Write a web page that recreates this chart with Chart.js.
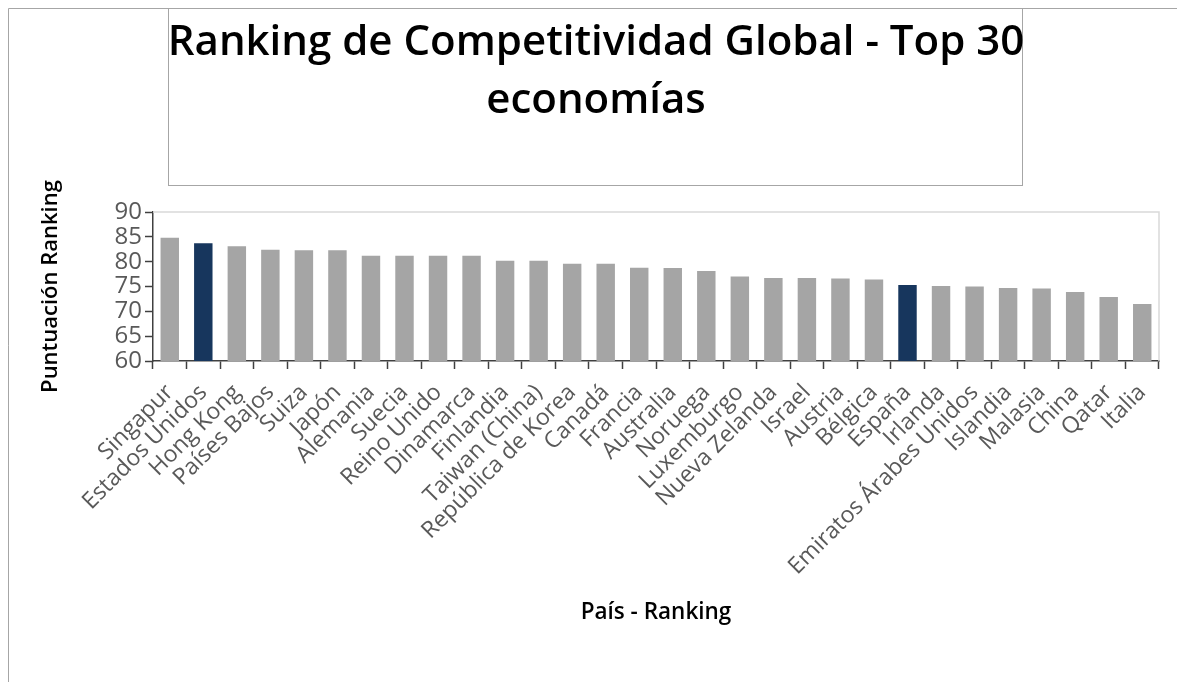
<!DOCTYPE html>
<html lang="es">
<head>
<meta charset="utf-8">
<title>Ranking de Competitividad Global</title>
<script src="https://cdn.jsdelivr.net/npm/chart.js@4.4.1/dist/chart.umd.min.js"></script>
<style>
  html, body { margin: 0; padding: 0; background: #fff; }
  canvas { display: block; }
</style>
</head>
<body>
<canvas id="ranking" width="1177" height="682"></canvas>
<script>
// Top 30 economías, ordenadas por puntuación
const paises = [
  "Singapur", "Estados Unidos", "Hong Kong", "Países Bajos", "Suiza", "Japón",
  "Alemania", "Suecia", "Reino Unido", "Dinamarca", "Finlandia", "Taiwan (China)",
  "República de Korea", "Canadá", "Francia", "Australia", "Noruega", "Luxemburgo",
  "Nueva Zelanda", "Israel", "Austria", "Bélgica", "España", "Irlanda",
  "Emiratos Árabes Unidos", "Islandia", "Malasia", "China", "Qatar", "Italia"
]
const puntuacion = [
  84.8, 83.7, 83.1, 82.4, 82.3, 82.3,
  81.2, 81.2, 81.2, 81.2, 80.2, 80.2,
  79.6, 79.6, 78.8, 78.7, 78.1, 77.0,
  76.7, 76.7, 76.6, 76.4, 75.3, 75.1,
  75.0, 74.7, 74.6, 73.9, 72.9, 71.5
]
const destacados = ["Estados Unidos", "España"]
const ticksY = [60, 65, 70, 75, 80, 85, 90]

const GRIS = "#a5a5a5"
const AZUL = "#17365d"
const TEXTO = "#595959"
const EJE = "#404040"

// marco exterior, caja del título y borde del área de trazado
const marco = {
  id: "marco",
  beforeDraw(chart) {
    const ctx = chart.ctx
    ctx.save()
    ctx.fillStyle = "#fff"
    ctx.fillRect(0, 0, chart.width, chart.height)
    ctx.strokeStyle = "#a6a6a6"
    ctx.lineWidth = 1
    ctx.beginPath()
    ctx.moveTo(8.5, chart.height)
    ctx.lineTo(8.5, 8.5)
    ctx.lineTo(chart.width, 8.5)
    ctx.stroke()
    ctx.fillRect(168, 8, 854, 177)
    ctx.strokeRect(168.5, 8.5, 854, 177)
    ctx.restore()
  },
  beforeDatasetsDraw(chart) {
    const { ctx, chartArea: a } = chart
    ctx.save()
    ctx.strokeStyle = "#d9d9d9"
    ctx.lineWidth = 1.5
    ctx.beginPath()
    ctx.moveTo(a.left, a.top)
    ctx.lineTo(a.right, a.top)
    ctx.lineTo(a.right, a.bottom)
    ctx.stroke()
    ctx.restore()
  }
}

new Chart(document.getElementById("ranking"), {
  type: "bar",
  data: {
    labels: paises,
    datasets: [{
      label: "Puntuación Ranking",
      data: puntuacion,
      backgroundColor: paises.map(p => destacados.includes(p) ? AZUL : GRIS),
      borderWidth: 0,
      categoryPercentage: 1,
      barPercentage: 0.55
    }]
  },
  options: {
    responsive: false,
    animation: false,
    layout: { padding: { left: 33, right: 18, top: 0, bottom: 0 } },
    plugins: {
      legend: { display: false },
      tooltip: { enabled: false },
      title: {
        display: true,
        text: ["Ranking de Competitividad Global - Top 30", "economías"],
        color: "#000",
        font: { family: "'Open Sans', sans-serif", size: 42, weight: "600", lineHeight: "58px" },
        padding: { top: 14, bottom: 82 }
      }
    },
    scales: {
      x: {
        grid: { display: true, drawOnChartArea: false, offset: true, tickLength: 8, tickColor: EJE, tickWidth: 1.5 },
        border: { color: EJE, width: 1.5 },
        ticks: {
          autoSkip: false,
          minRotation: 45,
          maxRotation: 45,
          padding: 10,
          color: TEXTO,
          font: { family: "'Open Sans', sans-serif", size: 23 }
        },
        title: {
          display: true,
          text: "País - Ranking",
          color: "#000",
          font: { family: "'Open Sans', sans-serif", size: 22.5, weight: "600" },
          padding: { top: 0, bottom: 56 }
        },
        afterFit(scale) { scale.height = 321 }
      },
      y: {
        min: 60,
        max: 90,
        afterBuildTicks(scale) { scale.ticks = ticksY.map(v => ({ value: v })) },
        grid: { display: true, drawOnChartArea: false, tickLength: 8, tickColor: EJE, tickWidth: 1.5 },
        border: { color: EJE, width: 1.5 },
        ticks: {
          autoSkip: false,
          padding: 3,
          color: TEXTO,
          font: { family: "'Open Sans', sans-serif", size: 24 }
        },
        title: {
          display: true,
          text: "Puntuación Ranking",
          color: "#000",
          font: { family: "'Open Sans', sans-serif", size: 22, weight: "600" },
          padding: { top: 5, bottom: 0 }
        },
        afterFit(scale) { scale.width = 120 }
      }
    }
  },
  plugins: [marco]
})
</script>
</body>
</html>
